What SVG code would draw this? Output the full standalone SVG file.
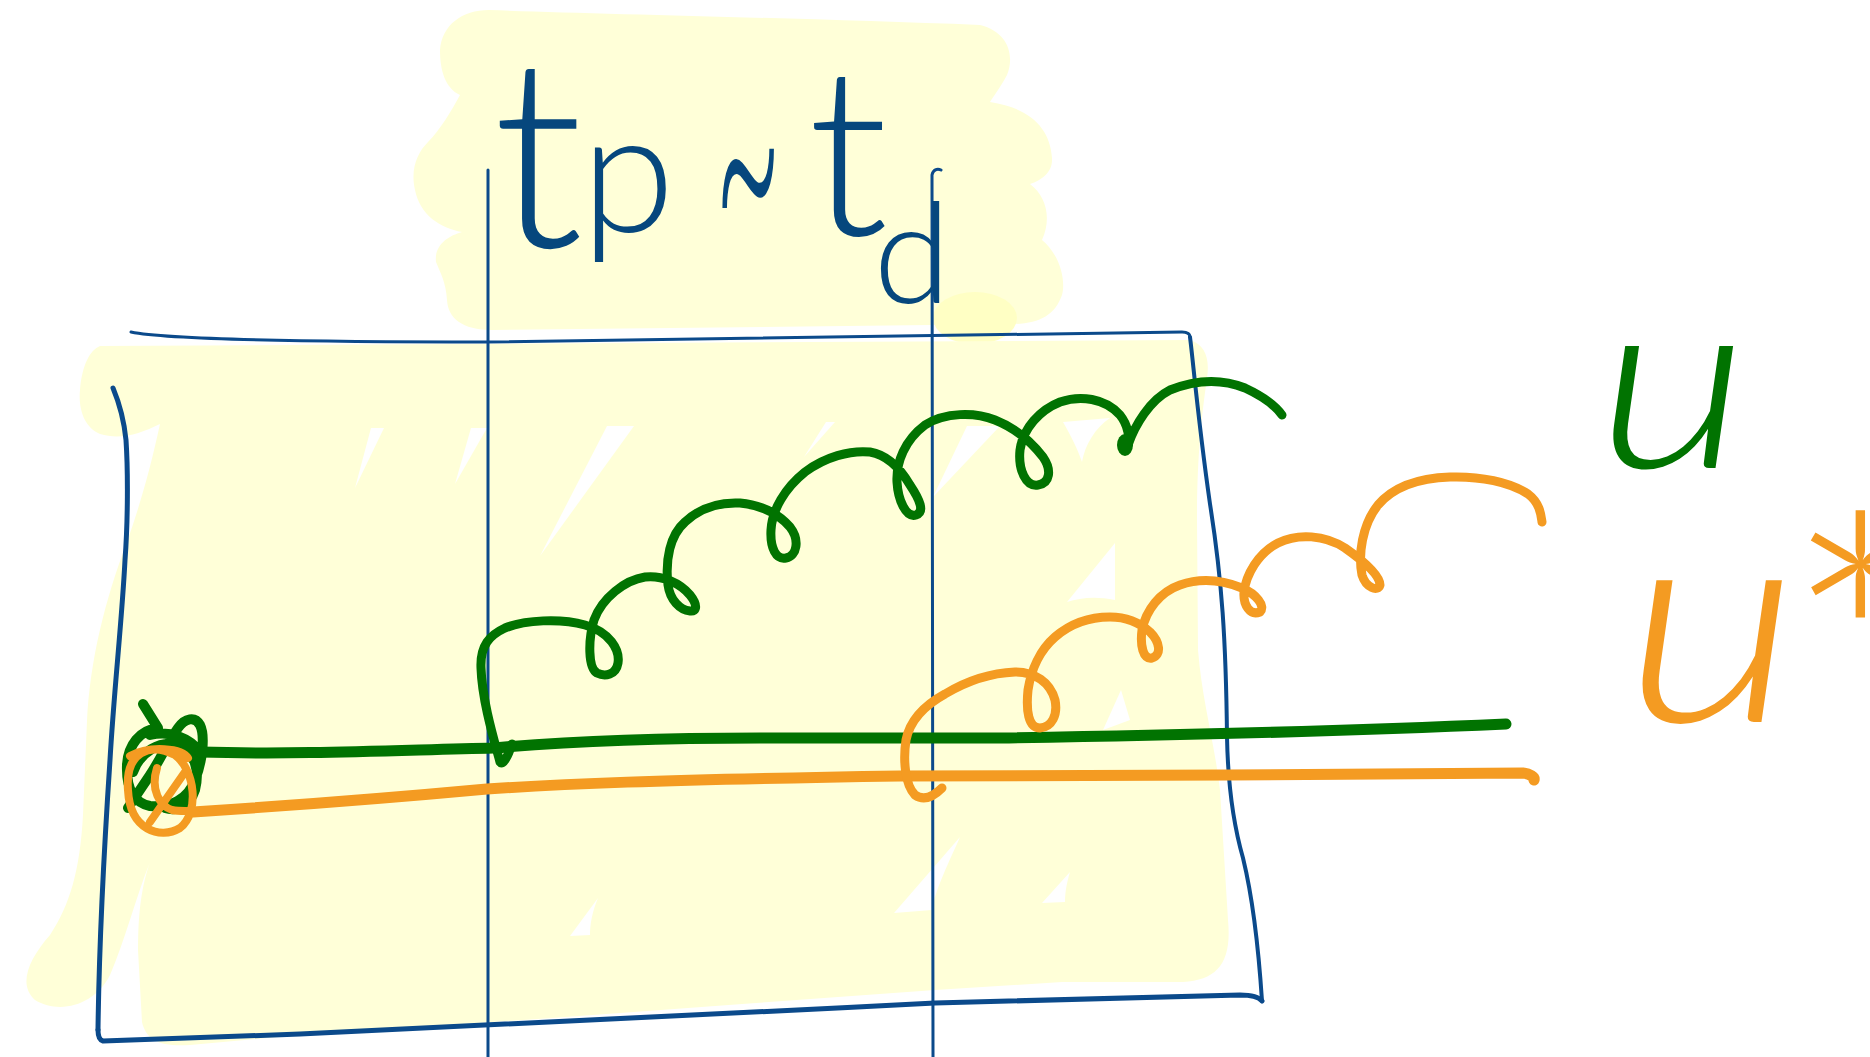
<svg xmlns="http://www.w3.org/2000/svg" width="1870" height="1057" viewBox="0 0 1870 1057">
<style>
.hl{fill:#ffffd8;stroke:none}
.gap{fill:#ffffff;stroke:none}
.frame{fill:none;stroke:#0b4a8b;stroke-linecap:round;stroke-linejoin:round}
.green{fill:none;stroke:#017301;stroke-linecap:round;stroke-linejoin:round}
.orange{fill:none;stroke:#f49b22;stroke-linecap:round;stroke-linejoin:round}
.hand{font-family:Lato,"Open Sans","Liberation Sans",sans-serif;font-weight:300}
</style>
<rect width="1870" height="1057" fill="#ffffff"/>
<g id="highlight">
<path class="hl" d="M 489,10 C 600,14 800,18 980,25 C 1008,32 1015,55 1007,75 C 1000,88 993,97 990,102 C 1030,108 1050,128 1052,158 C 1053,172 1042,180 1030,184 C 1046,196 1052,218 1042,240 C 1060,255 1066,280 1062,295 C 1055,315 1040,323 1015,324 L 492,330 C 462,330 448,318 447,300 C 446,282 440,272 436,262 C 434,245 448,236 462,232 C 440,228 420,215 415,190 C 410,168 418,152 428,142 C 440,130 452,110 460,95 C 445,88 440,70 440,50 C 442,25 462,10 489,10 Z"/>
<ellipse cx="975" cy="318" rx="42" ry="26" fill="#ffffc4"/>
<path class="hl" d="M 100,346 L 1190,340 C 1205,345 1210,358 1207,378 C 1201,420 1197,460 1197,520 L 1198,650 C 1202,700 1214,740 1220,790 L 1228,920 C 1232,962 1218,980 1183,982 L 1062,982 L 935,990 L 756,1003 L 552,1018 L 300,1035 L 190,1045 C 160,1047 146,1040 142,1022 L 138,950 C 138,910 142,885 150,862 C 135,900 125,940 110,975 C 95,1005 60,1015 35,1000 C 18,985 28,960 50,935 C 70,905 80,870 83,815 L 87,721 C 90,660 105,600 127,542 C 140,505 150,470 160,424 C 140,434 120,440 100,434 C 85,428 78,410 80,390 C 82,365 90,350 100,346 Z"/>
<polygon class="gap" points="384,428 371,428 355,488"/>
<polygon class="gap" points="487,428 471,428 455,484"/>
<polygon class="gap" points="634,426 607,426 540,556"/>
<polygon class="gap" points="835,422 826,422 804,457"/>
<polygon class="gap" points="1000,426 967,426 933,497"/>
<path class="gap" d="M 1063,422 L 1110,418 C 1095,428 1085,445 1082,462 C 1078,450 1072,438 1063,422 Z"/>
<path class="gap" d="M 1115,543 L 1115,600 C 1095,596 1080,598 1067,602 Z"/>
<path class="gap" d="M 1121,690 L 1130,720 L 1103,730 Z"/>
<path class="gap" d="M 598,898 C 592,912 590,925 590,935 L 570,936 Z"/>
<path class="gap" d="M 960,837 C 950,860 935,890 932,910 L 894,913 Z"/>
<path class="gap" d="M 1070,872 C 1066,885 1065,895 1065,902 L 1042,903 Z"/>
</g>
<g id="frame">
<path class="frame" stroke-width="3" d="M 131,332 C 160,338 250,342 487,342 L 1182,332 C 1188,332 1190,334 1190,337"/>
<path class="frame" stroke-width="4" d="M 1190,337 C 1193,360 1198,420 1210,504 C 1222,580 1226,640 1227,737 C 1228,790 1235,830 1243,858 C 1252,895 1258,940 1262,1001"/>
<path class="frame" stroke-width="5" d="M 1262,1001 C 1258,996 1250,995 1240,995 L 935,1003 C 700,1015 450,1028 300,1034 L 103,1041 C 99,1040 98,1036 98,1030"/>
<path class="frame" stroke-width="5" d="M 98,1030 C 99,950 104,850 110,760 C 114,690 122,620 125,560 C 128,520 128,470 126,440 C 124,420 118,400 113,388"/>
<path class="frame" stroke-width="3" d="M 488,170 L 488,1057"/>
<path class="frame" stroke-width="3" d="M 941,170 C 937,168 933,170 932,175 L 933,1057"/>
</g>
<g id="curves">
<path class="green" stroke-width="10" d="M 143,704 L 158,728 C 140,730 128,745 127,765 C 126,790 135,803 150,806 C 170,808 188,800 195,780 C 203,760 205,735 200,725 C 195,716 185,718 178,728 C 168,742 160,760 150,775 C 140,790 133,800 128,808 M 133,772 C 140,752 160,740 178,745 C 195,752 200,770 195,790 C 190,805 178,812 165,808 M 150,735 C 170,730 190,738 200,752"/>
<path class="green" stroke-width="11" d="M 200,752 C 300,755 400,750 494,748 C 560,742 640,738 760,738 L 1000,738 C 1200,735 1350,731 1506,724"/>
<path class="green" stroke-width="9" d="M 512,744 C 508,756 503,766 500,762 C 494,740 482,700 481,668 C 480,645 490,635 505,628 C 525,620 560,618 585,625 C 610,632 620,650 618,663 C 616,675 605,677 597,673 C 588,668 588,640 594,620 C 602,598 625,580 645,577 C 662,575 680,583 690,595 C 698,605 697,612 690,611 C 680,610 670,600 668,585 C 665,560 670,535 685,522 C 700,508 720,502 740,503 C 760,505 778,513 790,527 C 800,540 797,556 786,558 C 776,560 770,548 771,530 C 772,510 785,488 805,472 C 825,457 850,450 870,452 C 888,455 900,468 910,485 C 920,500 925,512 916,515 C 906,518 898,500 897,482 C 896,462 905,440 925,425 C 945,412 975,412 995,420 C 1015,428 1030,440 1043,457 C 1052,470 1050,483 1038,485 C 1026,487 1018,470 1020,450 C 1023,428 1040,410 1060,402 C 1080,395 1105,398 1120,415 C 1128,425 1130,438 1128,445 C 1135,425 1150,400 1170,390 C 1195,380 1220,378 1245,388 C 1260,395 1275,405 1282,415"/>
<ellipse cx="1125" cy="445" rx="8" ry="11" fill="#017301"/>
<path class="orange" stroke-width="11" d="M 193,812 C 300,805 400,797 487,789 C 560,784 650,780 900,776 L 1228,775 L 1523,773 C 1530,774 1535,777 1534,780"/>
<path class="orange" stroke-width="8" d="M 175,755 C 150,742 125,752 128,790 C 130,830 160,840 180,828 C 200,812 195,770 175,755 M 150,822 L 185,772 M 157,768 C 150,790 160,806 172,810 C 182,812 190,810 195,812 M 130,756 C 150,745 182,748 188,758"/>
<path class="orange" stroke-width="9" d="M 942,788 C 935,795 925,802 915,795 C 905,785 903,760 906,740 C 910,720 925,705 945,694 C 965,682 990,673 1015,672 C 1035,672 1050,682 1055,700 C 1058,715 1052,727 1040,728 C 1028,728 1026,710 1028,690 C 1031,670 1040,650 1055,637 C 1070,624 1090,617 1110,617 C 1128,617 1140,623 1150,632 C 1160,642 1162,655 1152,658 C 1143,660 1140,645 1142,630 C 1146,610 1160,592 1180,585 C 1200,578 1222,580 1242,588 C 1256,594 1266,606 1260,612 C 1250,616 1243,605 1244,592 C 1246,575 1258,553 1278,543 C 1298,533 1325,535 1345,548 C 1362,560 1380,575 1380,585 C 1378,592 1366,588 1362,575 C 1358,555 1362,525 1378,505 C 1395,485 1420,478 1450,477 C 1480,476 1510,482 1528,494 C 1540,503 1541,515 1542,522"/>
</g>
<g id="title" fill="#06477d" class="hand">
<text x="538" y="247" font-size="265" text-anchor="middle">t</text>
<text x="628" y="232" font-size="170" text-anchor="middle">p</text>
<text transform="translate(748,290) scale(0.65,2.1)" font-size="180" text-anchor="middle">~</text>
<text x="848" y="235" font-size="235" text-anchor="middle">t</text>
<text x="912" y="303" font-size="140" text-anchor="middle">d</text>
</g>
<g id="label-u" class="hand">
<text transform="translate(1673,468) scale(1.2,1)" font-size="245" font-style="italic" fill="#017301" text-anchor="middle">u</text>
</g>
<g id="label-ustar" class="hand">
<text transform="translate(1712,722) scale(1.2,1)" font-size="285" font-style="italic" fill="#f49b22" text-anchor="middle">u</text>
<text x="1784" y="779" font-size="360" fill="#f49b22">*</text>
</g>
</svg>
